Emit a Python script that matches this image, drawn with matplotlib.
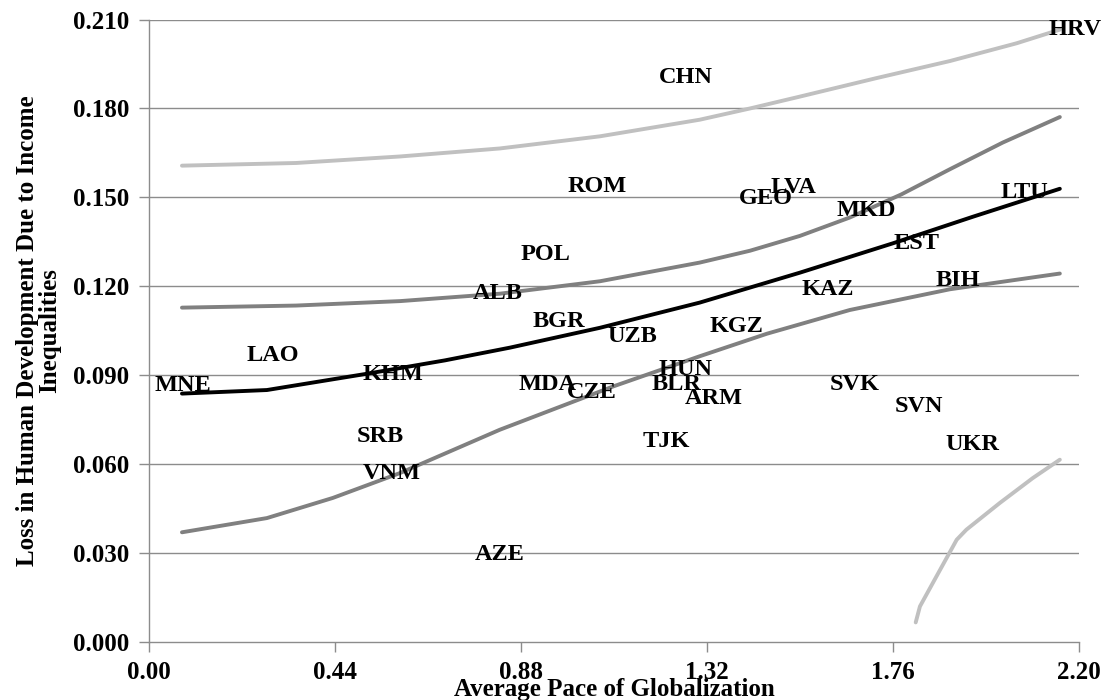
import matplotlib.pyplot as plt

# country labels (position of each label in data units)
countries = ['HRV', 'CHN', 'ROM', 'GEO', 'LVA', 'MKD', 'LTU', 'EST', 'POL', 'ALB',
             'KAZ', 'BIH', 'BGR', 'UZB', 'KGZ', 'LAO', 'HUN', 'MNE', 'KHM', 'MDA',
             'CZE', 'BLR', 'ARM', 'SVK', 'SVN', 'UKR', 'SRB', 'TJK', 'VNM', 'AZE']
pace = [2.19, 1.270, 1.060, 1.460, 1.524, 1.696, 2.072, 1.815, 0.939, 0.826,
        1.606, 1.914, 0.970, 1.143, 1.389, 0.293, 1.270, 0.080, 0.577, 0.942,
        1.048, 1.247, 1.337, 1.670, 1.822, 1.949, 0.546, 1.223, 0.575, 0.830]
loss = [0.2065, 0.1903, 0.1535, 0.1495, 0.1532, 0.1457, 0.1515, 0.1346, 0.1306, 0.1177,
        0.1188, 0.1221, 0.1080, 0.1029, 0.1066, 0.0968, 0.0918, 0.0864, 0.0901, 0.0870,
        0.0843, 0.0867, 0.0823, 0.0867, 0.0793, 0.0665, 0.0692, 0.0678, 0.0567, 0.0294]

# trend curves
top_x = [0.078, 0.348, 0.594, 0.830, 1.067, 1.303, 1.422, 1.540, 1.720, 1.895, 2.053, 2.155]
top_y = [0.1607, 0.1616, 0.1638, 0.1665, 0.1706, 0.1762, 0.1800, 0.1840, 0.1902, 0.1960, 0.2020, 0.2066]

upper_x = [0.078, 0.348, 0.594, 0.830, 1.067, 1.303, 1.422, 1.540, 1.658, 1.780, 1.895, 2.020, 2.155]
upper_y = [0.1128, 0.1135, 0.1150, 0.1175, 0.1217, 0.1280, 0.1320, 0.1370, 0.1432, 0.1510, 0.1595, 0.1685, 0.1771]

mid_x = [0.078, 0.279, 0.516, 0.700, 0.854, 1.067, 1.303, 1.540, 1.760, 1.950, 2.155]
mid_y = [0.0838, 0.0850, 0.0905, 0.0950, 0.0993, 0.1060, 0.1145, 0.1246, 0.1345, 0.1435, 0.1529]

lower_x = [0.078, 0.279, 0.435, 0.594, 0.830, 1.098, 1.303, 1.462, 1.658, 1.895, 2.155]
lower_y = [0.0370, 0.0418, 0.0486, 0.0570, 0.0716, 0.0862, 0.0964, 0.1040, 0.1120, 0.1190, 0.1243]

bottom_x = [1.814, 1.824, 1.863, 1.911, 1.934, 2.013, 2.091, 2.155]
bottom_y = [0.0066, 0.0120, 0.0221, 0.0345, 0.0379, 0.0469, 0.0553, 0.0615]

xticks = [0.00, 0.44, 0.88, 1.32, 1.76, 2.20]
yticks = [0.000, 0.030, 0.060, 0.090, 0.120, 0.150, 0.180, 0.210]

plt.rcParams['font.family'] = ['Liberation Serif', 'DejaVu Serif']
plt.rcParams['font.weight'] = 'bold'

fig = plt.figure(figsize=(11.02, 7), dpi=100)
ax = fig.add_axes([0.1352, 0.0829, 0.8438, 0.8892])

for y in yticks[1:]:
    ax.axhline(y, color='#8c8c8c', lw=1.0, zorder=1)

line_kw = dict(lw=2.8, solid_capstyle='round', solid_joinstyle='round', zorder=2)
ax.plot(top_x, top_y, color='#c0c0c0', **line_kw)
ax.plot(upper_x, upper_y, color='#808080', **line_kw)
ax.plot(mid_x, mid_y, color='black', **line_kw)
ax.plot(lower_x, lower_y, color='#808080', **line_kw)
ax.plot(bottom_x, bottom_y, color='#c0c0c0', **line_kw)

for name, x, y in zip(countries, pace, loss):
    ax.text(x, y, name, ha='center', va='center', fontsize=17.5, fontweight='bold', zorder=3)

ax.set_xlim(0, 2.20)
ax.set_ylim(0, 0.210)
ax.set_xticks(xticks)
ax.set_xticklabels(['%.2f' % t for t in xticks])
ax.set_yticks(yticks)
ax.set_yticklabels(['%.3f' % t for t in yticks])
ax.tick_params(axis='both', labelsize=18, length=7, width=1.0, color='#8c8c8c', pad=7)

for side in ['top', 'right']:
    ax.spines[side].set_visible(False)
for side in ['left', 'bottom']:
    ax.spines[side].set_color('#8c8c8c')
    ax.spines[side].set_linewidth(1.0)

ax.set_xlabel('Average Pace of Globalization', fontsize=18, fontweight='bold')
ax.xaxis.set_label_coords(0.5, -0.058)
ax.set_ylabel('Loss in Human Development Due to Income\nInequalities',
              fontsize=18, fontweight='bold', multialignment='center', linespacing=1.0)
ax.yaxis.set_label_coords(-0.094, 0.5)

plt.savefig('out.png', dpi=100)
